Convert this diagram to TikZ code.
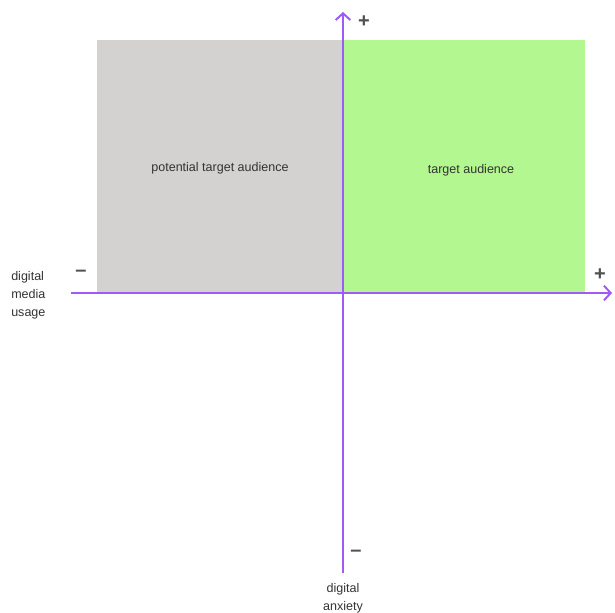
\documentclass[tikz,border=0pt]{standalone}
\usepackage{fontspec}
\setmainfont{Liberation Sans}
\usetikzlibrary{arrows.meta}
\definecolor{quadgray}{HTML}{D3D2D1}
\definecolor{quadgreen}{HTML}{B2F78F}
\definecolor{axisviolet}{HTML}{9D5CF7}
\definecolor{labelgray}{HTML}{333333}
\definecolor{signgray}{HTML}{505050}
\begin{document}
\begin{tikzpicture}[x=0.75pt,y=-0.75pt,
  axis/.style={draw=axisviolet,line width=1.5pt,-{Straight Barb[length=5pt,width=11pt,line width=1.5pt]}},
  quadlabel/.style={font=\fontsize{9.4}{11}\selectfont,text=labelgray},
  axislabel/.style={font=\fontsize{9.4}{13.5}\selectfont,text=labelgray,align=left,inner sep=0pt},
  sign/.style={font=\fontsize{15}{15}\selectfont\bfseries,text=signgray,inner sep=0pt}]
  \useasboundingbox (0,0) rectangle (615,613);
  % quadrants
  \fill[quadgray] (97,40) rectangle (343,293);
  \fill[quadgreen] (343,40) rectangle (585,293);
  \node[quadlabel] (pta) at (220,168) {potential target audience};
  \node[quadlabel] (ta) at (471,170) {target audience};
  % axes
  \coordinate (xl) at (71,293);
  \coordinate (xr) at (612,293);
  \coordinate (yb) at (343,573);
  \coordinate (yt) at (343,12);
  \draw[axis] (xl) -- (xr);
  \draw[axis] (yb) -- (yt);
  % axis ends
  \node[sign] (yplus) at (364,22) {+};
  \node[sign] (yminus) at (356,553) {–};
  \node[sign] (xminus) at (81,273) {–};
  \node[sign] (xplus) at (600,275) {+};
  % axis titles
  \node[axislabel,anchor=north west] (xlab) at (11,271) {digital\\media\\usage};
  \node[axislabel,align=center,anchor=north] (ylab) at (343,583) {digital\\anxiety};
\end{tikzpicture}
\end{document}
